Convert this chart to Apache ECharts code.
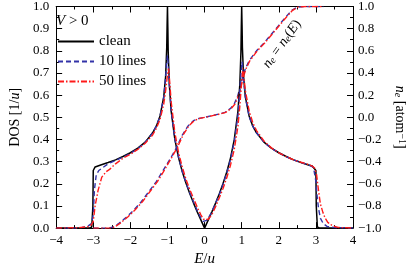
<!DOCTYPE html>
<html><head><meta charset="utf-8">
<script src="https://cdn.jsdelivr.net/npm/echarts@6/dist/echarts.min.js"></script>
<style>html,body{margin:0;padding:0;background:#fff}#c{width:415px;height:272px}</style>
</head><body><div id="c"></div>
<script>
// ---- data ----
const legendNames = ['clean', '10 lines', '50 lines'];
const xTicks = [-4, -3, -2, -1, 0, 1, 2, 3, 4];

const eClean = [-4, -3.1, -3.04, -3.01, -3.0, -2.95, -2.9, -2.8, -2.6, -2.4, -2.2, -2.0, -1.8, -1.6, -1.4, -1.3, -1.2, -1.1, -1.05, -1.02, -1.01, -1.0, -0.99, -0.98, -0.95, -0.9, -0.8, -0.7, -0.6, -0.5, -0.4, -0.3, -0.2, -0.1, 0,
  0.1, 0.2, 0.3, 0.4, 0.5, 0.6, 0.7, 0.8, 0.9, 0.95, 0.98, 0.99, 1.0, 1.01, 1.02, 1.05, 1.1, 1.2, 1.3, 1.4, 1.6, 1.8, 2.0, 2.2, 2.4, 2.6, 2.8, 2.9, 2.95, 3.0, 3.01, 3.04, 3.1, 4];
const dosClean = [0, 0, 0.005, 0.1, 0.26, 0.276, 0.28, 0.285, 0.296, 0.308, 0.323, 0.34, 0.361, 0.388, 0.43, 0.46, 0.506, 0.592, 0.684, 0.814, 0.915, 1.0, 0.906, 0.796, 0.649, 0.528, 0.399, 0.317, 0.254, 0.202, 0.156, 0.114, 0.0745, 0.037, 0,
  0.037, 0.0745, 0.114, 0.156, 0.202, 0.254, 0.317, 0.399, 0.528, 0.649, 0.796, 0.906, 1.0, 0.915, 0.814, 0.684, 0.592, 0.506, 0.46, 0.43, 0.388, 0.361, 0.34, 0.323, 0.308, 0.296, 0.285, 0.28, 0.276, 0.26, 0.1, 0.005, 0, 0];

const e10 = [-4, -3.5, -3.3, -3.15, -3.05, -3.0, -2.97, -2.92, -2.85, -2.77, -2.6, -2.4, -2.2, -2.0, -1.8, -1.6, -1.4, -1.3, -1.2, -1.1, -1.05, -1.02, -1.0, -0.98, -0.95, -0.9, -0.8, -0.7, -0.6, -0.5, -0.4, -0.3, -0.2, -0.1, -0.03, 0,
  0.05, 0.1, 0.2, 0.3, 0.4, 0.5, 0.6, 0.7, 0.8, 0.9, 0.95, 0.98, 1.01, 1.03, 1.05, 1.1, 1.2, 1.3, 1.4, 1.6, 1.8, 2.0, 2.2, 2.4, 2.6, 2.8, 2.9, 2.95, 3.0, 3.03, 3.07, 3.12, 3.2, 3.3, 3.5, 4];
const dos10 = [0, 0, 0.003, 0.008, 0.02, 0.06, 0.17, 0.24, 0.26, 0.27, 0.29, 0.305, 0.32, 0.337, 0.358, 0.387, 0.43, 0.46, 0.505, 0.59, 0.68, 0.75, 0.78, 0.74, 0.65, 0.53, 0.40, 0.32, 0.255, 0.205, 0.16, 0.12, 0.08, 0.045, 0.03, 0.03,
  0.035, 0.045, 0.075, 0.113, 0.153, 0.198, 0.25, 0.31, 0.39, 0.51, 0.62, 0.70, 0.75, 0.72, 0.67, 0.59, 0.505, 0.46, 0.43, 0.388, 0.36, 0.34, 0.322, 0.308, 0.296, 0.285, 0.278, 0.26, 0.21, 0.15, 0.09, 0.045, 0.02, 0.008, 0.002, 0];

const e50 = [-4, -3.4, -3.15, -3.05, -3.0, -2.95, -2.87, -2.77, -2.65, -2.56, -2.4, -2.2, -2.0, -1.8, -1.6, -1.4, -1.3, -1.2, -1.1, -1.05, -1.0, -0.97, -0.94, -0.9, -0.8, -0.7, -0.6, -0.5, -0.4, -0.3, -0.2, -0.1, -0.03, 0.02,
  0.1, 0.2, 0.3, 0.4, 0.5, 0.6, 0.7, 0.8, 0.9, 0.95, 1.0, 1.03, 1.06, 1.1, 1.2, 1.3, 1.4, 1.6, 1.8, 2.0, 2.2, 2.4, 2.6, 2.8, 2.9, 2.97, 3.02, 3.07, 3.12, 3.19, 3.25, 3.32, 3.45, 3.6, 4];
const dos50 = [0, 0.002, 0.006, 0.015, 0.03, 0.10, 0.17, 0.23, 0.255, 0.265, 0.29, 0.315, 0.333, 0.355, 0.383, 0.42, 0.45, 0.49, 0.56, 0.62, 0.69, 0.72, 0.66, 0.57, 0.43, 0.34, 0.275, 0.22, 0.175, 0.135, 0.095, 0.06, 0.04, 0.035,
  0.04, 0.062, 0.098, 0.138, 0.18, 0.228, 0.285, 0.355, 0.46, 0.55, 0.66, 0.72, 0.68, 0.62, 0.53, 0.475, 0.44, 0.393, 0.362, 0.34, 0.323, 0.308, 0.297, 0.287, 0.28, 0.27, 0.24, 0.17, 0.11, 0.07, 0.045, 0.026, 0.01, 0.003, 0];

const eNe10 = [-3.0, -2.6, -2.45, -2.3, -2.1, -1.9, -1.7, -1.5, -1.3, -1.1, -0.9, -0.75, -0.6, -0.45, -0.3, -0.15, 0, 0.2, 0.4, 0.55, 0.7, 0.8, 0.9, 0.97, 1.03, 1.1, 1.2, 1.4, 1.6, 1.8, 2.0, 2.2, 2.35, 2.5, 2.7, 3.2];
const ne10 = [-1.0, -1.0, -0.99, -0.955, -0.9, -0.835, -0.76, -0.67, -0.58, -0.47, -0.36, -0.27, -0.16, -0.08, -0.03, -0.01, 0, 0.015, 0.03, 0.045, 0.08, 0.12, 0.2, 0.29, 0.37, 0.44, 0.51, 0.6, 0.67, 0.75, 0.83, 0.91, 0.965, 0.995, 1.0, 1.0];
const eNe50 = [-3.0, -2.55, -2.42, -2.27, -2.07, -1.87, -1.67, -1.47, -1.27, -1.07, -0.88, -0.73, -0.58, -0.43, -0.28, -0.13, 0.02, 0.22, 0.42, 0.57, 0.72, 0.82, 0.92, 0.99, 1.05, 1.12, 1.22, 1.42, 1.62, 1.82, 2.02, 2.22, 2.37, 2.52, 2.72, 3.2];
const ne50 = [-1.0, -1.0, -0.99, -0.955, -0.9, -0.835, -0.76, -0.67, -0.58, -0.47, -0.36, -0.27, -0.16, -0.08, -0.03, -0.01, 0, 0.015, 0.03, 0.045, 0.08, 0.12, 0.2, 0.29, 0.37, 0.44, 0.51, 0.6, 0.67, 0.75, 0.83, 0.91, 0.965, 0.995, 1.0, 1.0];

// ---- chart ----
const SERIF = '"Liberation Serif", "DejaVu Serif", serif';
const pair = (xs, ys) => xs.map((x, i) => [x, ys[i]]);
const minus = v => String(v).replace('-', '\u2212');
const axisLine = { show: true, onZero: false, lineStyle: { color: '#000', width: 1 } };
const tickStyle = { inside: true, length: 6, lineStyle: { color: '#000', width: 1 } };
const minorStyle = { show: true, splitNumber: 2, length: 3, lineStyle: { color: '#000', width: 1 } };
const labelFont = { fontFamily: SERIF, fontSize: 13, color: '#000' };
const BLUE = '#3333a8', RED = '#ff1a1a';

const chart = echarts.init(document.getElementById('c'), null, { renderer: 'canvas' });
chart.setOption({
  animation: false,
  backgroundColor: '#fff',
  grid: { left: 44, right: 58, top: 6, bottom: 36 },
  legend: {
    data: legendNames, orient: 'vertical', left: 52, top: 29,
    itemWidth: 36, itemHeight: 10, itemGap: 5,
    itemStyle: { opacity: 0 },
    textStyle: { fontFamily: SERIF, fontSize: 15, color: '#000' }
  },
  xAxis: [
    { type: 'value', min: -4, max: 4, interval: 1, position: 'bottom',
      axisLine, axisTick: tickStyle, minorTick: minorStyle, splitLine: { show: false }, minorSplitLine: { show: false },
      axisLabel: Object.assign({ margin: 6, formatter: v => minus(v) }, labelFont),
      name: '{i|E}/{i|u}', nameLocation: 'middle', nameGap: 21,
      nameTextStyle: { fontFamily: SERIF, fontSize: 15, color: '#000',
        rich: { i: { fontFamily: SERIF, fontSize: 15, fontStyle: 'italic', color: '#000' } } } },
    { type: 'value', min: -4, max: 4, interval: 1, position: 'top',
      axisLine, axisTick: tickStyle, minorTick: minorStyle, splitLine: { show: false }, minorSplitLine: { show: false },
      axisLabel: { show: false } }
  ],
  yAxis: [
    { type: 'value', min: 0, max: 1, interval: 0.1, position: 'left',
      axisLine, axisTick: tickStyle, minorTick: minorStyle, splitLine: { show: false }, minorSplitLine: { show: false },
      axisLabel: Object.assign({ margin: 7, formatter: v => v.toFixed(1) }, labelFont),
      name: 'DOS [1/{i|u}]', nameLocation: 'middle', nameGap: 31, nameRotate: 90,
      nameTextStyle: { fontFamily: SERIF, fontSize: 14, color: '#000',
        rich: { i: { fontFamily: SERIF, fontSize: 14, fontStyle: 'italic', color: '#000' } } } },
    { type: 'value', min: -1, max: 1, interval: 0.2, position: 'right',
      axisLine, axisTick: tickStyle, minorTick: minorStyle, splitLine: { show: false }, minorSplitLine: { show: false },
      axisLabel: Object.assign({ margin: 5, formatter: v => minus(v.toFixed(1)) }, labelFont),
      name: '{i|n}{s|e} [atom{p|\u22121}]', nameLocation: 'middle', nameGap: 40, nameRotate: -90,
      nameTextStyle: { fontFamily: SERIF, fontSize: 14, color: '#000',
        rich: { i: { fontFamily: SERIF, fontSize: 14, fontStyle: 'italic', color: '#000' },
                s: { fontFamily: SERIF, fontSize: 10, fontStyle: 'italic', color: '#000', verticalAlign: 'bottom' },
                p: { fontFamily: SERIF, fontSize: 10, color: '#000', verticalAlign: 'top' } } } }
  ],
  series: [
    { name: 'ne10', type: 'line', xAxisIndex: 0, yAxisIndex: 1, data: pair(eNe10, ne10), showSymbol: false, symbol: 'none',
      lineStyle: { color: BLUE, width: 1.4, type: [5, 3] }, z: 2 },
    { name: 'ne50', type: 'line', xAxisIndex: 0, yAxisIndex: 1, data: pair(eNe50, ne50), showSymbol: false, symbol: 'none',
      lineStyle: { color: RED, width: 1.4, type: [6, 2, 1.5, 2] }, z: 3 },
    { name: 'clean', type: 'line', xAxisIndex: 0, yAxisIndex: 0, data: pair(eClean, dosClean), showSymbol: false, symbol: 'none',
      itemStyle: { color: '#000' }, lineStyle: { color: '#000', width: 1.5 }, z: 4 },
    { name: '10 lines', type: 'line', xAxisIndex: 0, yAxisIndex: 0, data: pair(e10, dos10), showSymbol: false, symbol: 'none',
      itemStyle: { color: BLUE }, lineStyle: { color: BLUE, width: 1.4, type: [5, 3] }, z: 5 },
    { name: '50 lines', type: 'line', xAxisIndex: 0, yAxisIndex: 0, data: pair(e50, dos50), showSymbol: false, symbol: 'none',
      itemStyle: { color: RED }, lineStyle: { color: RED, width: 1.4, type: [6, 2, 1.5, 2] }, z: 6 }
  ],
  graphic: [
    { type: 'text', x: 56, y: 14, z: 100,
      style: { text: '{i|V} > 0', fontFamily: SERIF, fontSize: 15, fill: '#000',
        rich: { i: { fontFamily: SERIF, fontSize: 15, fontStyle: 'italic', fill: '#000' } } } },
    { type: 'text', x: 282, y: 44, rotation: 0.95,
      style: { text: '{i|n}{s|e} = {i|n}{s|e}({i|E})', fontFamily: SERIF, fontSize: 14, fill: '#000',
        align: 'center', verticalAlign: 'middle',
        rich: { i: { fontFamily: SERIF, fontSize: 14, fontStyle: 'italic', fill: '#000' },
                s: { fontFamily: SERIF, fontSize: 10, fontStyle: 'italic', fill: '#000', verticalAlign: 'bottom' } } } }
  ]
});
</script></body></html>
